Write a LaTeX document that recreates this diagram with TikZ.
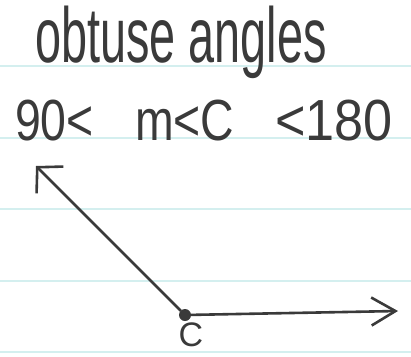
\documentclass[tikz,border=0pt]{standalone}
\usepackage{graphicx}
\usepackage{fontspec}
\setmainfont{Liberation Sans}
\usetikzlibrary{arrows.meta}
\definecolor{ink}{HTML}{3A3A3A}
\definecolor{paperline}{HTML}{D4EFEF}

\begin{document}
\begin{tikzpicture}[x=1pt, y=-1pt,
  every node/.style={inner sep=0pt, text=ink},
  title/.style={anchor=base west, font=\fontsize{78}{78}\selectfont},
  bound/.style={anchor=base west, font=\fontsize{58}{58}\selectfont},
  ray/.style={draw=ink, line width=2.6pt, line cap=round}]
\useasboundingbox[fill=white] (0,0) rectangle (411,356);
% ruled paper
\foreach \y in {66,138,209,281,352}
  \draw[paperline, line width=1.6pt] (0,\y) -- (411,\y);
% heading and bounds
\node[title] (head) at (35,62) {\scalebox{0.6}[1]{obtuse angles}};
\node[bound] (low) at (15,140) {\scalebox{0.8}[1]{90<}};
\node[bound] (mid) at (135,140) {\scalebox{0.8}[1]{m<C}};
\node[bound] (high) at (275,140) {\scalebox{0.9}[1]{<180}};
% the angle
\node[circle, fill=ink, minimum size=12pt] (C) at (185,315) {};
\node[font=\fontsize{34}{34}\selectfont] (Clabel) at (191,335) {C};
\coordinate (A) at (36,166);
\coordinate (B) at (398,311);
\draw[ray, -{Straight Barb[length=18pt, width=38pt, line width=2.6pt]}] (C) -- (A);
\draw[ray, -{Straight Barb[length=24pt, width=28pt, line width=2.6pt]}] (C) -- (B);
\end{tikzpicture}
\end{document}
